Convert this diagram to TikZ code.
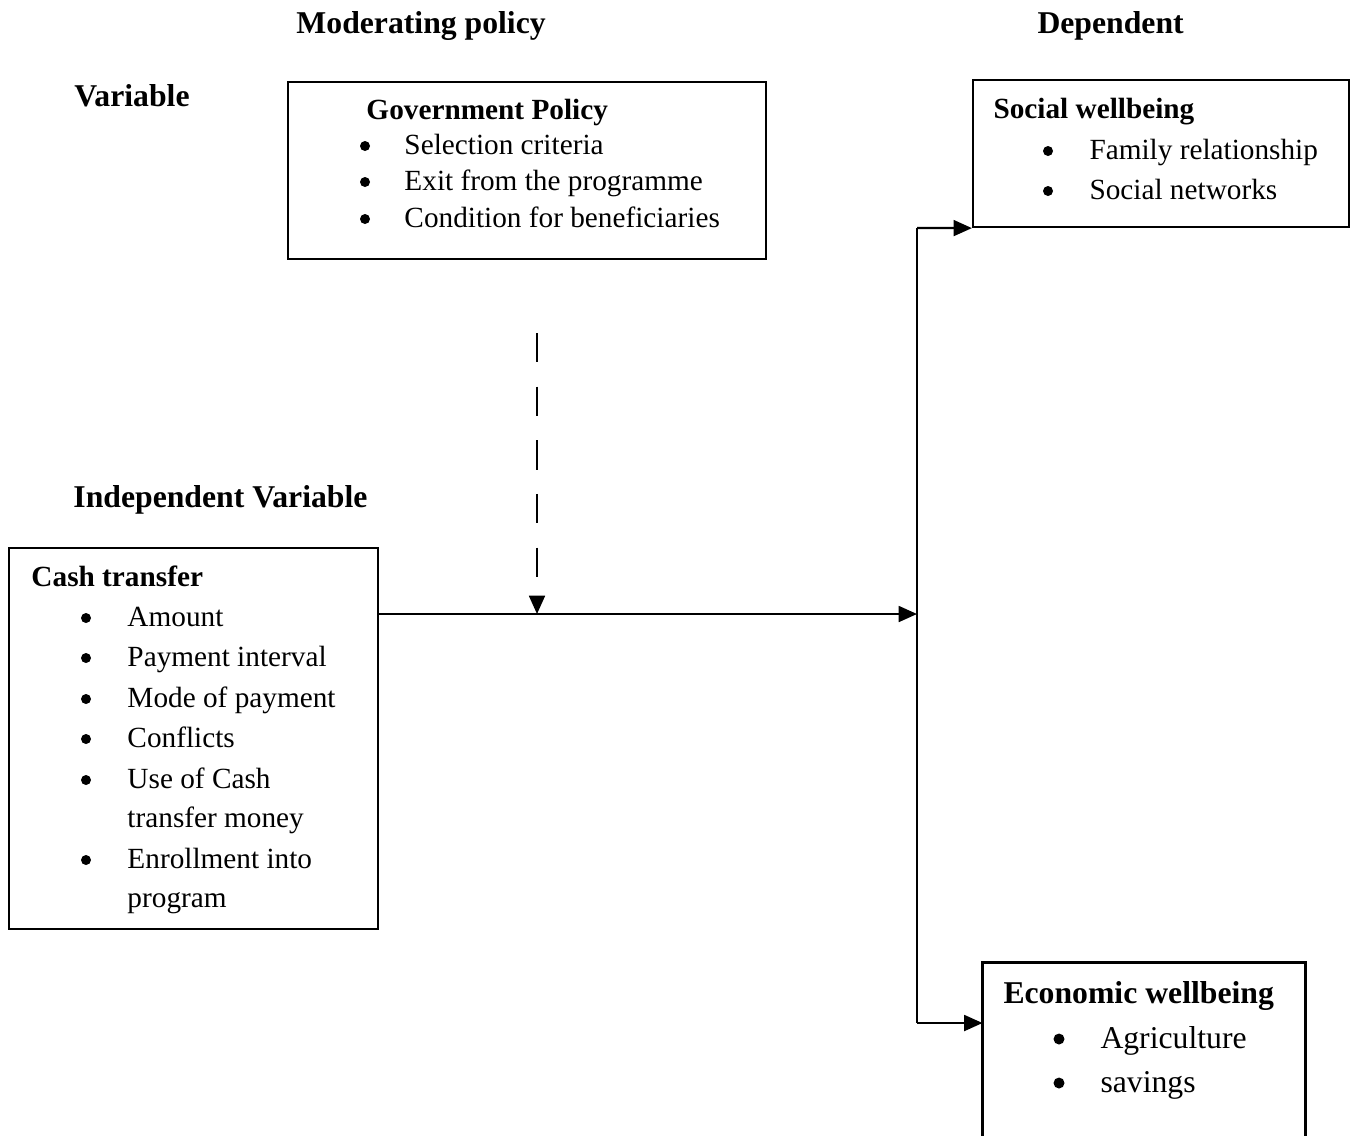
\documentclass[tikz,border=0pt]{standalone}
\usepackage{fontspec}
\setmainfont{Liberation Serif}
\usetikzlibrary{arrows.meta,fit}

\newcommand\txtsmall{\fontsize{12}{14}\selectfont}
\newcommand\txtlarge{\fontsize{13}{15}\selectfont}

\tikzset{
  box/.style={draw, line width=0.9pt, inner sep=0pt},
  heading/.style={font=\txtlarge\bfseries, anchor=base west, inner sep=0pt},
  title/.style={font=\txtsmall\bfseries, anchor=base west, inner sep=0pt},
  entry/.style={font=\txtsmall, anchor=base west, inner sep=0pt},
  dot/.style={circle, fill, inner sep=0pt, minimum size=4.1pt},
  link/.style={line width=0.9pt, -{Triangle[length=7.5pt,width=6.5pt]}}
}

\begin{document}
\begin{tikzpicture}[x=0.41pt, y=-0.41pt]
    \useasboundingbox (0,0) rectangle (1354,1135);

    % column headings
    \node[heading] (modhead) at (296,33) {Moderating policy};
    \node[heading] (dephead) at (1037,33) {Dependent};
    \node[heading] (varhead) at (74,106) {Variable};
    \node[heading] (indhead) at (73,507) {Independent Variable};

    % boxes
    \coordinate (g1) at (288,82);   \coordinate (g2) at (766,259);
    \node[box, fit=(g1)(g2)] (gov) {};
    \coordinate (s1) at (973,80);   \coordinate (s2) at (1349,227);
    \node[box, fit=(s1)(s2)] (social) {};
    \coordinate (c1) at (9,548);    \coordinate (c2) at (378,929);
    \node[box, fit=(c1)(c2)] (cash) {};
    \coordinate (e1) at (983,963);  \coordinate (e2) at (1305,1135);
    \node[inner sep=0pt, fit=(e1)(e2)] (econ) {};
        \draw[line width=0.9pt] (econ.south west) -- (econ.north west)
            -- (econ.north east) -- (econ.south east);

    % Government Policy
    \node[title] (govtitle) at (366,119) {Government Policy};
    \foreach \y/\t [count=\i] in {154/Selection criteria, 190/Exit from the programme, 227/Condition for beneficiaries}{
        \node[dot] (govdot\i) at (365,\y-8) {};
        \node[entry] (govitem\i) at (404,\y) {\t};
    }

    % Social wellbeing
    \node[title] (soctitle) at (993,118) {Social wellbeing};
    \foreach \y/\t [count=\i] in {159/Family relationship, 199/Social networks}{
        \node[dot] (socdot\i) at (1048,\y-8) {};
        \node[entry] (socitem\i) at (1089,\y) {\t};
    }

    % Cash transfer
    \node[title] (cashtitle) at (31,586) {Cash transfer};
    \foreach \y/\t [count=\i] in {626/Amount, 666/Payment interval, 707/Mode of payment, 747/Conflicts, 788/Use of Cash, 868/Enrollment into}{
        \node[dot] (cashdot\i) at (86,\y-8) {};
        \node[entry] (cashitem\i) at (127,\y) {\t};
    }
    \node[entry] (cashmore1) at (127,827) {transfer money};
    \node[entry] (cashmore2) at (127,907) {program};

    % Economic wellbeing
    \node[heading] (ecotitle) at (1003,1003) {Economic wellbeing};
    \foreach \y/\t [count=\i] in {1048/Agriculture, 1092/savings}{
        \node[dot, minimum size=4.5pt] (ecodot\i) at (1059,\y-9) {};
        \node[entry, font=\txtlarge] (ecoitem\i) at (1100,\y) {\t};
    }

    % connectors
    \coordinate (jtop) at (917,228);
    \coordinate (jmid) at (917,614);
    \coordinate (jbot) at (917,1023);
    \coordinate (dtop) at (537,333);
    \draw[line width=0.9pt] (jtop) -- (jbot);
    \draw[link] (cash.east |- jmid) -- (jmid);
    \draw[link] (jtop) -- (social.south west);
    \draw[link] (jbot) -- (econ.west |- jbot);
    \draw[link, dash pattern=on 12pt off 10pt] (dtop) -- (dtop |- jmid);

\end{tikzpicture}
\end{document}
